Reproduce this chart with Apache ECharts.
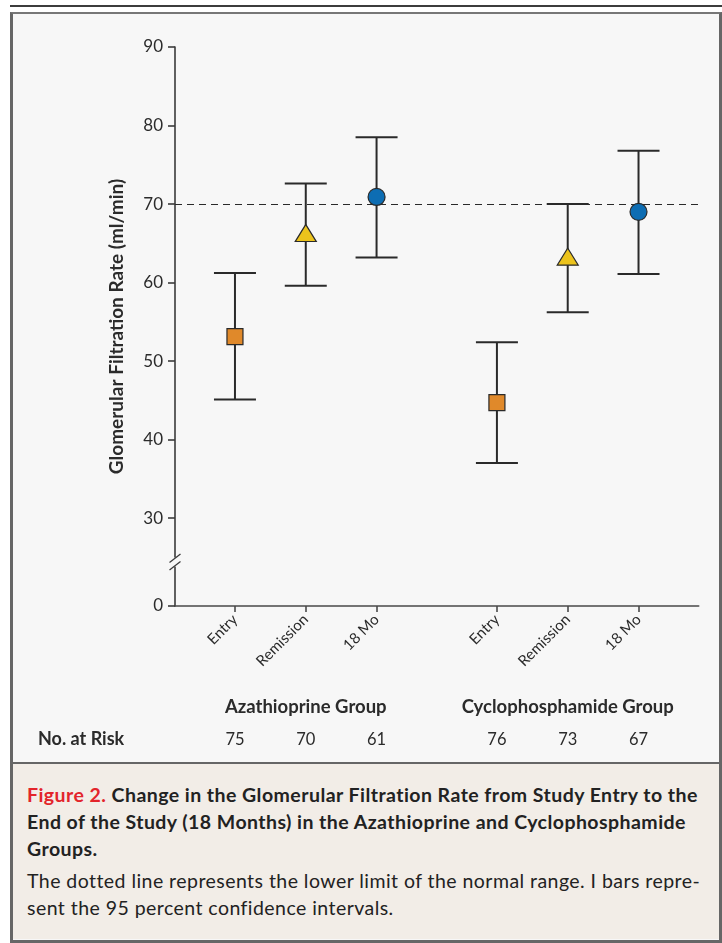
<!DOCTYPE html>
<html>
<head>
<meta charset="utf-8">
<script src="https://cdn.jsdelivr.net/npm/echarts@6/dist/echarts.min.js"></script>
<style>
  html, body { margin: 0; padding: 0; width: 722px; height: 943px; background: #ffffff; overflow: hidden; }
  #topline { position: absolute; left: 10px; top: 5px; width: 712px; height: 2px; background: #3c3c3c; }
  #panel { position: absolute; left: 10px; top: 12px; width: 706px; height: 926px; border-left: 3px solid #666; border-top: 2px solid #777; border-right: 3px solid #666; border-bottom: 3px solid #666; background: #f7f7f7; }
  #caption { position: absolute; left: 13px; top: 762px; width: 706px; height: 177px; border-top: 2px solid #666; background: #f2ede7; box-sizing: border-box; padding: 17px 10px 0 14px; font-family: Lato, "Open Sans", sans-serif; color: #222; white-space: nowrap; overflow: hidden; }
  #caption .title { font-weight: bold; font-size: 19.5px; line-height: 27px; letter-spacing: 0.45px; }
  #caption .title .fig { color: #e3242b; }
  #caption .body { font-size: 19.5px; line-height: 27px; margin-top: 5px; letter-spacing: 0.45px; }
  #chart { position: absolute; left: 0; top: 0; width: 722px; height: 943px; }
</style>
</head>
<body>
<div id="topline"></div>
<div id="panel"></div>
<div id="caption">
  <div class="title"><span class="fig">Figure 2.</span> Change in the Glomerular Filtration Rate from Study Entry to the<br>End of the Study (18 Months) in the Azathioprine and Cyclophosphamide<br>Groups.</div>
  <div class="body">The dotted line represents the lower limit of the normal range. I bars repre-<br>sent the 95 percent confidence intervals.</div>
</div>
<div id="chart"></div>
<script>
// ---------------- data ----------------
const groups = ['Azathioprine Group', 'Cyclophosphamide Group'];
const timepoints = ['Entry', 'Remission', '18 Mo'];
const meanAza = [53.1, 66.3, 70.9];
const lowAza  = [45.1, 59.6, 63.2];
const highAza = [61.2, 72.6, 78.5];
const meanCyc = [44.7, 63.3, 69.0];
const lowCyc  = [37.0, 56.2, 61.1];
const highCyc = [52.4, 70.0, 76.8];
const atRiskAza = [75, 70, 61];
const atRiskCyc = [76, 73, 67];
const normalLowerLimit = 70;
const yTickLabels = [0, 30, 40, 50, 60, 70, 80, 90];
const yAxisTitle = 'Glomerular Filtration Rate (ml/min)';
const atRiskTitle = 'No. at Risk';

// ---------------- layout helpers ----------------
const GROUP_GAP = 1.7;          // extra spacing between groups, in category units
const X_MIN = -0.847, X_PAD_R = 0.85;
const Y_MIN = 18.8, Y_MAX = 90; // 0 drawn at the bottom of a broken axis
const yPos = v => (v === 0 ? Y_MIN : v);
const xPos = (g, i) => g * (timepoints.length - 1 + GROUP_GAP) + i;

const means = [meanAza, meanCyc], lows = [lowAza, lowCyc], highs = [highAza, highCyc];
const risks = [atRiskAza, atRiskCyc];
const positions = [], posLabels = [], riskLabels = [];
groups.forEach((g, gi) => timepoints.forEach((t, ti) => {
  positions.push(xPos(gi, ti)); posLabels.push(t); riskLabels.push(String(risks[gi][ti]));
}));
const X_MAX = positions[positions.length - 1] + X_PAD_R;
const groupCenters = groups.map((g, gi) => xPos(gi, (timepoints.length - 1) / 2));
const lookup = (arr, keys, v) => { const k = keys.findIndex(p => Math.abs(p - v) < 1e-6); return k >= 0 ? arr[k] : ''; };

const errData = [];
groups.forEach((g, gi) => timepoints.forEach((t, ti) => errData.push([xPos(gi, ti), lows[gi][ti], highs[gi][ti]])));

const markerStyles = [
  { symbol: 'rect', size: 16, color: '#e0892a' },
  { symbol: 'triangle', size: [21, 17], color: '#ecc31c' },
  { symbol: 'circle', size: 17, color: '#0d6db3' }
];
const scatterSeries = timepoints.map((t, ti) => ({
  type: 'scatter', name: t, z: 5,
  symbol: markerStyles[ti].symbol, symbolSize: markerStyles[ti].size,
  itemStyle: { color: markerStyles[ti].color, borderColor: '#2a2a2a', borderWidth: 1.2, opacity: 1 },
  data: groups.map((g, gi) => [xPos(gi, ti), means[gi][ti]])
}));

const FONT = 'Lato, "Open Sans", sans-serif';
const TXT = '#2b2b2b';
const chart = echarts.init(document.getElementById('chart'), null, { renderer: 'canvas' });

const baseX = { type: 'value', min: X_MIN, max: X_MAX, gridIndex: 0, position: 'bottom', splitLine: { show: false } };
const GROUP_OFFSET = 92, RISK_OFFSET = 125;

chart.setOption({
  animation: false,
  backgroundColor: 'transparent',
  grid: { left: 175, right: 722 - 698.7, top: 47, bottom: 943 - 606, containLabel: false },
  xAxis: [
    Object.assign({}, baseX, {
      axisLine: { show: true, onZero: false, lineStyle: { color: '#4a4a4a', width: 1.6 } },
      axisTick: { show: true, length: 6, customValues: positions, lineStyle: { color: '#4a4a4a', width: 1.6 } },
      axisLabel: { show: true, customValues: positions, rotate: 45, margin: 11, fontFamily: FONT, fontSize: 15, color: TXT,
                   formatter: v => lookup(posLabels, positions, v) }
    }),
    Object.assign({}, baseX, {
      offset: GROUP_OFFSET, axisLine: { show: false }, axisTick: { show: false },
      axisLabel: { show: true, customValues: groupCenters, margin: 0, fontFamily: FONT, fontWeight: 'bold', fontSize: 18.5, color: TXT,
                   formatter: v => lookup(groups, groupCenters, v) }
    }),
    Object.assign({}, baseX, {
      offset: RISK_OFFSET, axisLine: { show: false }, axisTick: { show: false },
      axisLabel: { show: true, customValues: positions, margin: 0, fontFamily: FONT, fontSize: 16.5, color: TXT,
                   formatter: v => lookup(riskLabels, positions, v) }
    })
  ],
  yAxis: {
    type: 'value', min: Y_MIN, max: Y_MAX,
    name: yAxisTitle, nameLocation: 'middle', nameRotate: 90, nameGap: 49,
    nameTextStyle: { fontFamily: FONT, fontWeight: 'bold', fontSize: 19, color: TXT },
    axisLine: { show: true, onZero: false, lineStyle: { color: '#3a3a3a', width: 1.6 } },
    axisTick: { show: true, length: 7, customValues: yTickLabels.map(yPos), lineStyle: { color: '#3a3a3a', width: 1.6 } },
    axisLabel: { show: true, customValues: yTickLabels.map(yPos), margin: 12, fontFamily: FONT, fontSize: 17, color: TXT,
                 formatter: v => lookup(yTickLabels.map(String), yTickLabels.map(yPos), v) },
    splitLine: { show: false }
  },
  series: [
    {
      type: 'custom', name: 'CI', z: 3,
      data: errData,
      renderItem: (params, api) => {
        const x = api.value(0);
        const lo = api.coord([x, api.value(1)]);
        const hi = api.coord([x, api.value(2)]);
        const hw = 21;
        const st = { stroke: '#2a2a2a', lineWidth: 2 };
        return { type: 'group', children: [
          { type: 'line', shape: { x1: lo[0], y1: lo[1], x2: hi[0], y2: hi[1] }, style: st },
          { type: 'line', shape: { x1: lo[0] - hw, y1: lo[1], x2: lo[0] + hw, y2: lo[1] }, style: st },
          { type: 'line', shape: { x1: hi[0] - hw, y1: hi[1], x2: hi[0] + hw, y2: hi[1] }, style: st }
        ]};
      },
      markLine: {
        silent: true, symbol: 'none', z: 1,
        label: { show: false },
        lineStyle: { color: '#2a2a2a', type: [7, 5], width: 1.2 },
        data: [{ yAxis: normalLowerLimit }]
      }
    }
  ].concat(scatterSeries)
});

// break mark on the y axis and the "No. at Risk" row title
const ax = chart.convertToPixel({ xAxisIndex: 0 }, X_MIN);
const y30 = chart.convertToPixel({ yAxisIndex: 0 }, yTickLabels[1]);
const y0 = chart.convertToPixel({ yAxisIndex: 0 }, yPos(0));
const cy = (y30 + y0) / 2;
const riskY = y0 + RISK_OFFSET + 8.5;
chart.setOption({
  graphic: [
    { type: 'rect', z: 100, shape: { x: ax - 3, y: cy - 4.5, width: 6, height: 9 }, style: { fill: '#f7f7f7' } },
    { type: 'line', z: 101, shape: { x1: ax - 5.5, y1: cy + 0.5, x2: ax + 5.5, y2: cy - 8 }, style: { stroke: '#3a3a3a', lineWidth: 1.3 } },
    { type: 'line', z: 101, shape: { x1: ax - 5.5, y1: cy + 8, x2: ax + 5.5, y2: cy - 0.5 }, style: { stroke: '#3a3a3a', lineWidth: 1.3 } },
    { type: 'text', z: 101, x: 38, y: riskY, style: { text: atRiskTitle, fontFamily: FONT, fontWeight: 'bold', fontSize: 18, fill: TXT, verticalAlign: 'middle' } }
  ]
});
</script>
</body>
</html>
